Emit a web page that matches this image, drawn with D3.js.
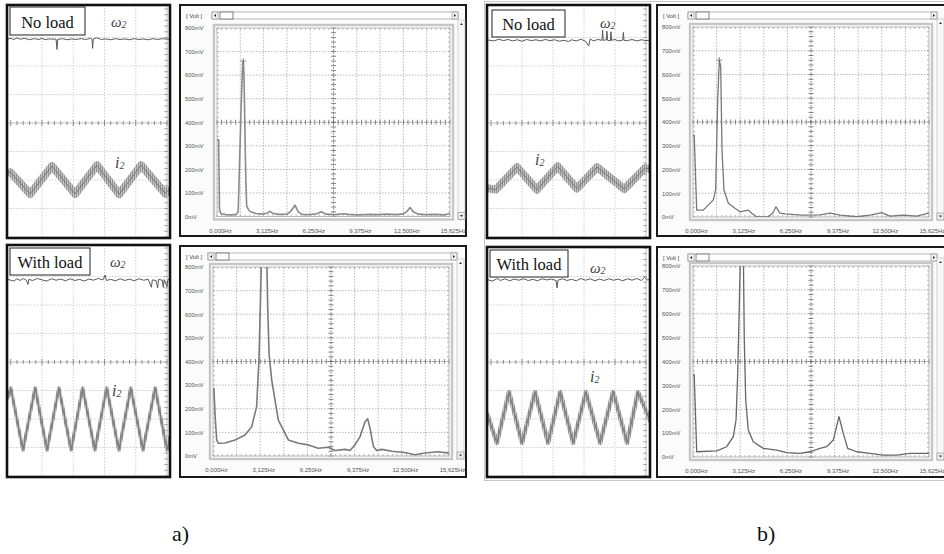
<!DOCTYPE html>
<html>
<head>
<meta charset="utf-8">
<script src="https://cdn.jsdelivr.net/npm/d3@7"></script>
<style>
  body { margin: 0; background: #fff; }
  svg { display: block; }
</style>
</head>
<body>
<svg id="fig" width="944" height="554"></svg>
<script>
// ---- axis ticks of the spectrum analyser windows ----
const ticksHz = [0, 3125, 6250, 9375, 12500, 15625];
const ticksHzText = ["0,000Hz", "3,125Hz", "6,250Hz", "9,375Hz", "12,500Hz", "15,625Hz"];
const ticksMv = [0, 100, 200, 300, 400, 500, 600, 700, 800];
const ticksMvText = ["0mV", "100mV", "200mV", "300mV", "400mV", "500mV", "600mV", "700mV", "800mV"];

// ---- spectra of i2: [frequency Hz, amplitude mV] ----
const spectrumNoLoadA = [[0,325],[110,325],[170,30],[260,12],[600,8],[1000,7],[1300,9],[1420,20],[1520,240],[1620,470],[1720,650],[1765,660],[1810,600],[1870,380],[1930,160],[1990,45],[2100,30],[2250,20],[2600,13],[3000,10],[3350,14],[3550,22],[3750,13],[4200,9],[4700,10],[4950,22],[5230,48],[5450,20],[5700,9],[6200,8],[6700,12],[7000,20],[7300,10],[7900,8],[8500,12],[8800,9],[9500,7],[10200,9],[10800,8],[11400,10],[12000,8],[12500,11],[12750,22],[12950,38],[13150,20],[13500,10],[14000,8],[14600,9],[15200,7],[15625,12]];
const spectrumWithLoadA = [[0,280],[60,285],[150,160],[245,68],[350,54],[800,55],[1460,68],[2120,89],[2560,124],[2890,209],[3050,420],[3160,703],[3250,950],[3390,1300],[3530,950],[3620,632],[3710,435],[3885,322],[4105,237],[4325,152],[4660,110],[4990,68],[5650,54],[6310,47],[6970,33],[7630,37],[8080,23],[8740,28],[9070,23],[9400,47],[9735,82],[10065,145],[10240,157],[10400,117],[10620,40],[10840,23],[11170,28],[11830,20],[12700,15],[13370,5],[14030,13],[14900,18],[15625,12]];
const spectrumNoLoadB = [[0,345],[80,345],[245,29],[680,29],[1345,72],[1500,114],[1635,493],[1745,661],[1835,633],[1920,282],[2050,114],[2340,58],[2780,37],[3110,22],[3660,29],[3885,16],[4215,1],[4985,0],[5275,16],[5495,43],[5760,16],[6090,13],[7200,8],[8400,9],[9070,16],[9730,8],[10840,1],[11720,8],[12490,18],[13040,4],[13900,8],[14800,4],[15625,16]];
const spectrumWithLoadB = [[0,344],[80,344],[245,22],[1570,26],[2230,43],[2670,85],[2850,155],[2960,351],[3065,630],[3130,820],[3230,1300],[3340,820],[3395,490],[3490,239],[3660,113],[3990,64],[4655,36],[5540,29],[6200,18],[7090,15],[7745,22],[8410,36],[8850,43],[9290,71],[9665,169],[9950,99],[10240,36],[10840,22],[11720,15],[12600,8],[13480,8],[14370,15],[15625,15]];

// ---- oscilloscope traces: [time div, level div] ----
const speedNoLoadA = [[-0.1,2.95],[0,2.97],[0.1,2.93],[0.2,2.99],[0.3,2.94],[0.45,2.97],[0.6,2.92],[0.75,2.96],[0.9,2.93],[1.0,2.97],[1.1,2.92],[1.2,2.95],[1.45,2.94],[1.48,2.58],[1.5,2.93],[1.65,2.96],[1.8,2.92],[1.95,2.95],[2.1,2.93],[2.25,2.96],[2.4,2.93],[2.55,2.97],[2.6,2.94],[2.62,2.62],[2.64,2.95],[2.75,2.99],[2.9,2.93],[3.05,2.95],[3.2,2.92],[3.35,2.96],[3.5,2.93],[3.65,2.95],[3.8,2.92],[3.95,2.96],[4.1,2.93],[4.25,2.95],[4.4,2.92],[4.55,2.96],[4.7,2.93],[4.85,2.96],[5.0,2.94],[5.1,2.95]];
const currentNoLoadA = [[-0.1,-1.7],[0,-1.74],[0.62,-2.49],[1.32,-1.51],[2.06,-2.49],[2.76,-1.48],[3.47,-2.5],[4.17,-1.48],[4.94,-2.47],[5.1,-2.3]];
const speedWithLoadA = [[-0.1,2.9],[0.1,2.84],[0.2,2.92],[0.3,2.86],[0.4,2.93],[0.5,2.87],[0.55,2.72],[0.58,2.9],[0.7,2.86],[0.85,2.93],[1.0,2.88],[1.15,2.84],[1.3,2.92],[1.45,2.87],[1.6,2.91],[1.75,2.85],[1.9,2.92],[2.05,2.86],[2.2,2.9],[2.35,2.84],[2.5,2.91],[2.65,2.87],[2.8,2.93],[2.95,2.88],[3.02,3.05],[3.06,2.86],[3.2,2.9],[3.35,2.85],[3.5,2.92],[3.65,2.86],[3.8,2.91],[3.95,2.85],[4.1,2.92],[4.25,2.87],[4.4,2.9],[4.5,2.62],[4.53,2.88],[4.65,2.86],[4.7,2.6],[4.73,2.9],[4.85,2.87],[4.88,2.62],[4.91,2.89],[5.0,2.64],[5.03,2.9],[5.1,2.87]];
const currentWithLoadA = [[-0.1,-1.3],[0.0,-0.91],[0.39,-3.09],[0.78,-0.91],[1.16,-3.09],[1.54,-0.91],[1.93,-3.09],[2.3,-0.91],[2.69,-3.09],[3.07,-0.91],[3.46,-3.09],[3.84,-0.91],[4.23,-3.09],[4.62,-0.91],[5.0,-3.09],[5.1,-2.6]];
const speedNoLoadB = [[-0.15,2.92],[0.1,2.88],[0.25,2.94],[0.4,2.89],[0.55,2.93],[0.7,2.88],[0.85,2.92],[1.0,2.87],[1.15,2.93],[1.3,2.89],[1.45,2.92],[1.6,2.88],[1.75,2.93],[1.9,2.89],[2.05,2.92],[2.2,2.87],[2.35,2.9],[2.5,2.86],[2.6,2.92],[2.75,2.88],[2.9,2.94],[3.05,2.87],[3.15,2.7],[3.2,2.95],[3.3,2.88],[3.45,2.93],[3.58,2.9],[3.6,3.26],[3.62,2.9],[3.72,2.92],[3.74,3.22],[3.76,2.9],[3.85,2.88],[3.87,3.2],[3.89,2.9],[4.0,2.93],[4.1,2.88],[4.25,2.91],[4.27,3.18],[4.29,2.9],[4.4,2.89],[4.55,2.93],[4.7,2.88],[4.85,2.92],[5.0,2.89],[5.15,2.91]];
const currentNoLoadB = [[-0.15,-2.28],[0.15,-2.34],[0.84,-1.55],[1.48,-2.34],[2.15,-1.52],[2.77,-2.3],[3.42,-1.55],[4.3,-2.32],[4.97,-1.58],[5.15,-1.62]];
const speedWithLoadB = [[-0.15,2.9],[0.05,2.84],[0.2,2.93],[0.3,2.86],[0.45,2.92],[0.6,2.85],[0.75,2.91],[0.9,2.87],[1.05,2.92],[1.2,2.86],[1.35,2.9],[1.5,2.85],[1.65,2.92],[1.8,2.88],[1.95,2.91],[2.1,2.86],[2.13,2.6],[2.16,2.87],[2.3,2.92],[2.45,2.86],[2.6,2.9],[2.75,2.85],[2.9,2.93],[3.05,2.87],[3.2,2.92],[3.35,2.85],[3.5,2.91],[3.65,2.86],[3.8,2.92],[3.95,2.87],[4.1,2.91],[4.25,2.85],[4.4,2.92],[4.55,2.87],[4.7,2.93],[4.85,2.86],[4.95,2.97],[5.05,2.88],[5.15,2.9]];
const currentWithLoadB = [[-0.13,-1.79],[0.19,-2.84],[0.58,-1.05],[1.0,-2.84],[1.42,-1.05],[1.84,-2.84],[2.23,-1.05],[2.65,-2.84],[3.06,-1.05],[3.52,-2.84],[3.94,-1.05],[4.39,-2.84],[4.74,-1.05],[5.15,-2.1]];

const svg = d3.select("#fig");
const defs = svg.append("defs");

// striped fill that gives the noisy current trace its texture
const noise = defs.append("pattern").attr("id", "noise")
  .attr("patternUnits", "userSpaceOnUse").attr("width", 2).attr("height", 4);
noise.append("rect").attr("width", 2).attr("height", 4).attr("fill", "#c6c6c6");
noise.append("rect").attr("width", 0.7).attr("height", 4).attr("fill", "#7c7c7c");

const serif = "'Liberation Serif', 'DejaVu Serif', serif";
const sans = "'Liberation Sans', Arial, sans-serif";

// frame around panel b)
svg.append("rect").attr("x", 484.5).attr("y", 1.5).attr("width", 470).attr("height", 479)
  .attr("fill", "none").attr("stroke", "#c8c8c8").attr("stroke-width", 1);

function drawScope(cfg) {
  const { id, box, grid } = cfg;
  const g = svg.append("g");
  const tx = d3.scaleLinear().domain([0, 5]).range([grid.x0, grid.x0 + 5 * grid.dx]);
  const vy = d3.scaleLinear().domain([-4, 4]).range([grid.yc + 4 * grid.dy, grid.yc - 4 * grid.dy]);

  defs.append("clipPath").attr("id", "clip-" + id).append("rect")
    .attr("x", box.x).attr("y", box.y).attr("width", box.w).attr("height", box.h);

  g.append("rect").attr("x", box.x).attr("y", box.y).attr("width", box.w).attr("height", box.h)
    .attr("fill", "#fff");
  const body = g.append("g").attr("clip-path", `url(#clip-${id})`);

  // dotted graticule
  d3.range(1, 5).forEach(t => body.append("line")
    .attr("x1", tx(t)).attr("x2", tx(t)).attr("y1", box.y).attr("y2", box.y + box.h)
    .attr("stroke", "#c4c4c4").attr("stroke-width", 0.8).attr("stroke-dasharray", "1.5,1.5"));
  [-4, -3, -2, -1, 1, 2, 3].forEach(v => body.append("line")
    .attr("x1", box.x).attr("x2", tx(5)).attr("y1", vy(v)).attr("y2", vy(v))
    .attr("stroke", "#c4c4c4").attr("stroke-width", 0.8).attr("stroke-dasharray", "1.5,1.5"));

  // centre lines with minor ticks
  body.append("line").attr("x1", box.x).attr("x2", tx(5)).attr("y1", vy(0)).attr("y2", vy(0))
    .attr("stroke", "#b0b0b0").attr("stroke-width", 0.8);
  d3.range(-1, 26).forEach(k => body.append("line")
    .attr("x1", tx(k * 0.2)).attr("x2", tx(k * 0.2))
    .attr("y1", vy(0) - (k % 5 === 0 ? 3 : 2)).attr("y2", vy(0) + (k % 5 === 0 ? 3 : 2))
    .attr("stroke", "#777").attr("stroke-width", 0.8));
  body.append("line").attr("x1", tx(5)).attr("x2", tx(5)).attr("y1", box.y).attr("y2", box.y + box.h)
    .attr("stroke", "#b0b0b0").attr("stroke-width", 0.8);
  d3.range(-20, 21).forEach(k => body.append("line")
    .attr("x1", tx(5) - 3).attr("x2", tx(5) + 1)
    .attr("y1", vy(k * 0.2)).attr("y2", vy(k * 0.2))
    .attr("stroke", "#888").attr("stroke-width", 0.7));

  const line = d3.line().x(d => tx(d[0])).y(d => vy(d[1]));

  // current i2: noisy band plus its centre line
  body.append("path").datum(cfg.current).attr("d", line)
    .attr("fill", "none").attr("stroke", "url(#noise)").attr("stroke-width", cfg.band)
    .attr("stroke-linejoin", "round");
  body.append("path").datum(cfg.current).attr("d", line)
    .attr("fill", "none").attr("stroke", "#7a7a7a").attr("stroke-width", cfg.core)
    .attr("stroke-linejoin", "round");

  // speed ω2
  body.append("path").datum(cfg.speed).attr("d", line)
    .attr("fill", "none").attr("stroke", "#5a5a5a").attr("stroke-width", 1);

  // condition label
  const lb = cfg.labelBox;
  g.append("rect").attr("x", lb.x).attr("y", lb.y).attr("width", lb.w).attr("height", lb.h)
    .attr("fill", "#fff").attr("stroke", "#222").attr("stroke-width", 1);
  g.append("text").attr("x", lb.x + lb.w / 2).attr("y", lb.y + lb.h - 7)
    .attr("text-anchor", "middle").attr("font-family", serif).attr("font-size", 16.5)
    .attr("fill", "#111").text(cfg.title);

  // signal names
  const w = g.append("text").attr("x", cfg.speedLabel[0]).attr("y", cfg.speedLabel[1])
    .attr("font-family", serif).attr("font-style", "italic").attr("fill", "#444");
  w.append("tspan").attr("font-size", 15).text("ω");
  w.append("tspan").attr("font-size", 10).attr("dy", 1).text("2");
  const c = g.append("text").attr("x", cfg.currentLabel[0]).attr("y", cfg.currentLabel[1])
    .attr("font-family", serif).attr("font-style", "italic").attr("fill", "#444");
  c.append("tspan").attr("font-size", 16).text("i");
  c.append("tspan").attr("font-size", 10).attr("dy", 1).text("2");

  g.append("rect").attr("x", box.x).attr("y", box.y).attr("width", box.w).attr("height", box.h)
    .attr("fill", "none").attr("stroke", "#111").attr("stroke-width", 2.6);
}

function drawSpectrum(cfg) {
  const { id, box, plot } = cfg;
  const g = svg.append("g");
  const x = d3.scaleLinear().domain([0, 15625]).range([plot.x0, plot.x1]);
  const y = d3.scaleLinear().domain([0, 800]).range([plot.y1, plot.y0]);

  // window
  g.append("rect").attr("x", box.x).attr("y", box.y).attr("width", box.w).attr("height", box.h)
    .attr("fill", "#fbfbfb").attr("stroke", "#1a1a1a").attr("stroke-width", 2);

  // horizontal scroll bar
  const sy = box.y + 7, sh = 7;
  const sx0 = plot.x0 - 5, sx1 = plot.x1 + 8;
  g.append("rect").attr("x", sx0).attr("y", sy).attr("width", sx1 - sx0).attr("height", sh)
    .attr("fill", "#fff").attr("stroke", "#9a9a9a").attr("stroke-width", 0.7);
  g.append("rect").attr("x", sx0).attr("y", sy).attr("width", 6).attr("height", sh)
    .attr("fill", "#f2f2f2").attr("stroke", "#888").attr("stroke-width", 0.6);
  g.append("path").attr("d", `M${sx0 + 4},${sy + 2} L${sx0 + 2},${sy + 3.5} L${sx0 + 4},${sy + 5}Z`).attr("fill", "#222");
  g.append("rect").attr("x", sx0 + 8).attr("y", sy).attr("width", 13).attr("height", sh)
    .attr("fill", "#fff").attr("stroke", "#666").attr("stroke-width", 0.8);
  g.append("rect").attr("x", sx1 - 6).attr("y", sy).attr("width", 6).attr("height", sh)
    .attr("fill", "#f2f2f2").attr("stroke", "#888").attr("stroke-width", 0.6);
  g.append("path").attr("d", `M${sx1 - 4},${sy + 2} L${sx1 - 2},${sy + 3.5} L${sx1 - 4},${sy + 5}Z`).attr("fill", "#222");

  // vertical scroll bar
  const vx = plot.x1 + 8, vy0 = plot.y0 - 8, vy1 = plot.y1 + 3;
  g.append("rect").attr("x", vx).attr("y", vy0).attr("width", 7).attr("height", vy1 - vy0)
    .attr("fill", "#f7f7f7").attr("stroke", "#bbb").attr("stroke-width", 0.6);
  g.append("path").attr("d", `M${vx + 2},${vy0 + 5} L${vx + 3.5},${vy0 + 3} L${vx + 5},${vy0 + 5}Z`).attr("fill", "#333");
  g.append("rect").attr("x", vx).attr("y", vy1 - 7).attr("width", 7).attr("height", 7)
    .attr("fill", "#eee").attr("stroke", "#888").attr("stroke-width", 0.6);
  g.append("path").attr("d", `M${vx + 2},${vy1 - 4.5} L${vx + 3.5},${vy1 - 2.5} L${vx + 5},${vy1 - 4.5}Z`).attr("fill", "#333");

  g.append("text").attr("x", box.x + 6).attr("y", box.y + 13)
    .attr("font-family", sans).attr("font-size", 5.8).attr("fill", "#444").text("[ Volt ]");

  // plot frame
  g.append("rect").attr("x", plot.x0 - 3).attr("y", plot.y0 - 3)
    .attr("width", plot.x1 - plot.x0 + 6).attr("height", plot.y1 - plot.y0 + 6)
    .attr("fill", "#fff").attr("stroke", "#c6c6c6").attr("stroke-width", 2.4);

  const div = 15625 / 10;
  // dotted grid
  d3.range(1, 10).filter(k => k !== 5).forEach(k => g.append("line")
    .attr("x1", x(k * div)).attr("x2", x(k * div)).attr("y1", plot.y0).attr("y2", plot.y1)
    .attr("stroke", "#9c9c9c").attr("stroke-width", 0.7).attr("stroke-dasharray", "1.5,1.5"));
  ticksMv.filter(v => v !== 400 && v !== 0 && v !== 800).forEach(v => g.append("line")
    .attr("x1", plot.x0).attr("x2", plot.x1).attr("y1", y(v)).attr("y2", y(v))
    .attr("stroke", "#9c9c9c").attr("stroke-width", 0.7).attr("stroke-dasharray", "1.5,1.5"));

  // centre cross with minor ticks
  const cx = x(7812.5), cy = y(400);
  g.append("line").attr("x1", cx).attr("x2", cx).attr("y1", plot.y0).attr("y2", plot.y1)
    .attr("stroke", "#888").attr("stroke-width", 0.8).attr("stroke-dasharray", "2,1");
  g.append("line").attr("x1", plot.x0).attr("x2", plot.x1).attr("y1", cy).attr("y2", cy)
    .attr("stroke", "#888").attr("stroke-width", 0.8).attr("stroke-dasharray", "2,1");
  d3.range(0, 51).forEach(k => {
    const xx = x(k * div / 5);
    g.append("line").attr("x1", xx).attr("x2", xx).attr("y1", cy - 2.5).attr("y2", cy + 2.5)
      .attr("stroke", "#555").attr("stroke-width", 0.7);
    g.append("line").attr("x1", xx).attr("x2", xx).attr("y1", plot.y0).attr("y2", plot.y0 + 2)
      .attr("stroke", "#888").attr("stroke-width", 0.6);
    g.append("line").attr("x1", xx).attr("x2", xx).attr("y1", plot.y1).attr("y2", plot.y1 - 2)
      .attr("stroke", "#888").attr("stroke-width", 0.6);
  });
  d3.range(0, 41).forEach(k => {
    const yy = y(k * 20);
    g.append("line").attr("x1", cx - 2.5).attr("x2", cx + 2.5).attr("y1", yy).attr("y2", yy)
      .attr("stroke", "#555").attr("stroke-width", 0.7);
    g.append("line").attr("x1", plot.x0).attr("x2", plot.x0 + 2).attr("y1", yy).attr("y2", yy)
      .attr("stroke", "#888").attr("stroke-width", 0.6);
    g.append("line").attr("x1", plot.x1).attr("x2", plot.x1 - 2).attr("y1", yy).attr("y2", yy)
      .attr("stroke", "#888").attr("stroke-width", 0.6);
  });
  g.append("rect").attr("x", plot.x0).attr("y", plot.y0)
    .attr("width", plot.x1 - plot.x0).attr("height", plot.y1 - plot.y0)
    .attr("fill", "none").attr("stroke", "#a8a8a8").attr("stroke-width", 0.8);

  // axis labels
  const ya = g.append("g").attr("transform", `translate(${plot.x0},0)`)
    .call(d3.axisLeft(y).tickValues(ticksMv).tickFormat((d, i) => ticksMvText[i]).tickSize(0));
  ya.select(".domain").remove();
  ya.selectAll("text").attr("text-anchor", "start").attr("x", box.x + 5 - plot.x0)
    .attr("font-family", sans).attr("font-size", 5.8).attr("fill", "#555");
  const xa = g.append("g").attr("transform", `translate(0,${plot.y1 + 9})`)
    .call(d3.axisBottom(x).tickValues(ticksHz).tickFormat((d, i) => ticksHzText[i]).tickSize(0));
  xa.select(".domain").remove();
  xa.selectAll("text").attr("dx", 3)
    .attr("font-family", sans).attr("font-size", 6).attr("fill", "#555");

  // spectrum curve
  defs.append("clipPath").attr("id", "clip-" + id).append("rect")
    .attr("x", plot.x0).attr("y", plot.y0).attr("width", plot.x1 - plot.x0).attr("height", plot.y1 - plot.y0);
  g.append("path").datum(cfg.data).attr("clip-path", `url(#clip-${id})`)
    .attr("d", d3.line().x(d => x(d[0])).y(d => y(d[1])))
    .attr("fill", "none").attr("stroke", cfg.color).attr("stroke-width", cfg.width)
    .attr("stroke-linejoin", "round");

  // cursor cross on the highest harmonic
  if (cfg.marker) {
    const peak = cfg.data.reduce((a, b) => (b[1] > a[1] ? b : a));
    const px = x(peak[0]), py = y(peak[1]);
    g.append("path").attr("d", `M${px - 3},${py} H${px + 3} M${px},${py - 3} V${py + 3}`)
      .attr("stroke", "#777").attr("stroke-width", 0.8).attr("fill", "none");
  }
}

// ---- panel a) ----
drawScope({
  id: "sa1", box: { x: 7, y: 5, w: 163, h: 233 }, grid: { x0: 10.75, dx: 31.25, yc: 123, dy: 28.5 },
  speed: speedNoLoadA, current: currentNoLoadA, band: 8, core: 1,
  title: "No load", labelBox: { x: 10, y: 7, w: 75, h: 28 },
  speedLabel: [111, 27], currentLabel: [115, 168]
});
drawSpectrum({
  id: "fa1", box: { x: 180, y: 5, w: 286, h: 231 }, plot: { x0: 217, y0: 28, x1: 450, y1: 216.5 },
  data: spectrumNoLoadA, color: "#8a8a8a", width: 1.6, marker: true
});
drawScope({
  id: "sa2", box: { x: 7, y: 245, w: 163, h: 232 }, grid: { x0: 10.75, dx: 31.25, yc: 362, dy: 28.5 },
  speed: speedWithLoadA, current: currentWithLoadA, band: 3.5, core: 1.2,
  title: "With load", labelBox: { x: 10, y: 248, w: 80, h: 27 },
  speedLabel: [110, 267], currentLabel: [112, 396]
});
drawSpectrum({
  id: "fa2", box: { x: 180, y: 246, w: 286, h: 231 }, plot: { x0: 213, y0: 267, x1: 449, y1: 456 },
  data: spectrumWithLoadA, color: "#7a7a7a", width: 1.6, marker: false
});

// ---- panel b) ----
drawScope({
  id: "sb1", box: { x: 487, y: 5, w: 163, h: 233 }, grid: { x0: 491, dx: 31, yc: 123, dy: 28.5 },
  speed: speedNoLoadB, current: currentNoLoadB, band: 8, core: 1,
  title: "No load", labelBox: { x: 492, y: 10, w: 73, h: 27 },
  speedLabel: [600, 28], currentLabel: [535, 165]
});
drawSpectrum({
  id: "fb1", box: { x: 657, y: 5, w: 292, h: 231 }, plot: { x0: 693, y0: 27, x1: 929, y1: 217 },
  data: spectrumNoLoadB, color: "#777", width: 1.3, marker: true
});
drawScope({
  id: "sb2", box: { x: 487, y: 247, w: 163, h: 230 }, grid: { x0: 491, dx: 31, yc: 362, dy: 28.5 },
  speed: speedWithLoadB, current: currentWithLoadB, band: 4.5, core: 1.2,
  title: "With load", labelBox: { x: 490, y: 250, w: 78, h: 27 },
  speedLabel: [590, 273], currentLabel: [590, 382]
});
drawSpectrum({
  id: "fb2", box: { x: 657, y: 247, w: 292, h: 230 }, plot: { x0: 693, y0: 266, x1: 929, y1: 457 },
  data: spectrumWithLoadB, color: "#666", width: 1.3, marker: false
});

// sub-figure captions
svg.append("text").attr("x", 172).attr("y", 541).attr("font-family", serif)
  .attr("font-size", 22).attr("fill", "#111").text("a)");
svg.append("text").attr("x", 757).attr("y", 541).attr("font-family", serif)
  .attr("font-size", 22).attr("fill", "#111").text("b)");
</script>
</body>
</html>
